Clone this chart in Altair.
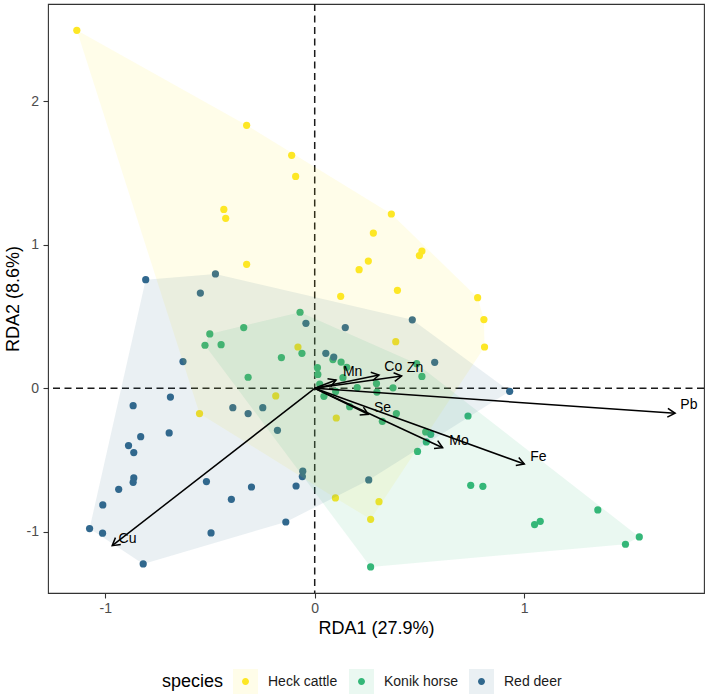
import math
import altair as alt
import pandas as pd

FONT = "Liberation Sans"

# ---------------- data ----------------
species = ["Heck cattle", "Konik horse", "Red deer"]
colors = ["#FDE725", "#35B779", "#31688E"]

heck_x = [-1.136, -0.325, -0.110, -0.091, -0.434, -0.425, -0.325, 0.366, 0.280, 0.512,
          0.500, 0.256, 0.212, 0.395, 0.124, 0.778, 0.808, 0.811, 0.387, -0.080,
          -0.186, -0.550, 0.103, 0.307, 0.267, 0.099]
heck_y = [2.495, 1.833, 1.624, 1.477, 1.247, 1.185, 0.864, 1.215, 1.082, 0.957,
          0.925, 0.887, 0.827, 0.683, 0.641, 0.632, 0.479, 0.288, 0.325, 0.288,
          -0.053, -0.176, -0.207, -0.790, -0.913, -0.764]

konik_x = [-0.070, -0.339, -0.501, -0.524, -0.447, -0.061, -0.159, -0.318, 0.013, 0.015,
           0.087, 0.126, 0.153, 0.135, 0.024, 0.044, 0.100, 0.167, 0.203, 0.295,
           0.297, 0.374, 0.323, 0.390, 0.487, 0.512, 0.530, 0.554, 0.533, 0.491,
           0.732, 0.745, 0.803, 1.352, 1.050, 1.077, 1.484, 1.550, 0.267]
konik_y = [0.530, 0.423, 0.379, 0.300, 0.304, 0.244, 0.214, 0.077, 0.144, 0.097,
           0.200, 0.183, 0.146, 0.074, 0.030, -0.056, -0.022, -0.128, 0.005, 0.033,
           -0.026, 0.003, -0.230, -0.176, 0.172, 0.083, -0.304, -0.321, -0.374, -0.440,
           -0.193, -0.676, -0.683, -0.848, -0.950, -0.927, -1.087, -1.036, -1.245]

deer_x = [-0.807, -0.474, -0.546, -0.629, -0.689, -0.867, -0.391, -0.318, -0.248, -0.178,
          -0.831, -0.695, -0.889, -0.864, -0.864, -0.867, -0.936, -1.012, -1.075, -1.013,
          -0.819, -0.517, -0.302, -0.398, -0.495, -0.138, -0.089, -0.057, -0.059, -0.042,
          0.146, 0.053, 0.091, 0.466, 0.573, 0.931, 0.258]
deer_y = [0.757, 0.797, 0.664, 0.186, -0.061, -0.121, -0.135, -0.176, -0.135, -0.293,
          -0.337, -0.311, -0.399, -0.448, -0.625, -0.655, -0.704, -0.813, -0.978, -1.010,
          -1.224, -0.650, -0.688, -0.774, -1.008, -0.932, -0.681, -0.578, -0.615, 0.453,
          0.423, 0.244, 0.218, 0.477, 0.181, -0.021, -0.639]

env_vars = ["Cu", "Pb", "Fe", "Mo", "Se", "Mn", "Co", "Zn"]
env_x = [-0.967, 1.721, 1.001, 0.611, 0.256, 0.102, 0.307, 0.415]
env_y = [-1.097, -0.174, -0.528, -0.414, -0.181, 0.058, 0.093, 0.086]
lab_x = [-0.894, 1.787, 1.068, 0.689, 0.324, 0.181, 0.375, 0.479]
lab_y = [-1.048, -0.116, -0.482, -0.367, -0.134, 0.116, 0.148, 0.141]

x_ticks = [-1, 0, 1]
y_ticks = [-1, 0, 1, 2]
x_domain = [-1.2736, 1.859]
y_domain = [-1.4268, 2.6787]
x_title = "RDA1 (27.9%)"
y_title = "RDA2 (8.6%)"

# ---------------- layout ----------------
W, H = 656, 589
PX_X = W / (x_domain[1] - x_domain[0])
PX_Y = H / (y_domain[1] - y_domain[0])


def convex_hull(pts):
    pts = sorted(set(pts))
    if len(pts) <= 2:
        return pts

    def cross(o, a, b):
        return (a[0] - o[0]) * (b[1] - o[1]) - (a[1] - o[1]) * (b[0] - o[0])

    lower = []
    for p in pts:
        while len(lower) >= 2 and cross(lower[-2], lower[-1], p) <= 0:
            lower.pop()
        lower.append(p)
    upper = []
    for p in reversed(pts):
        while len(upper) >= 2 and cross(upper[-2], upper[-1], p) <= 0:
            upper.pop()
        upper.append(p)
    return lower[:-1] + upper[:-1]


groups = [(species[0], heck_x, heck_y), (species[1], konik_x, konik_y), (species[2], deer_x, deer_y)]

pts_rows = []
hull_rows = []
for name, xs_, ys_ in groups:
    for a, b in zip(xs_, ys_):
        pts_rows.append({"px": a, "py": b, "grp": name})
    hull = convex_hull(list(zip(xs_, ys_)))
    for i, (a, b) in enumerate(hull):
        hull_rows.append({"hx": a, "hy": b, "species": name, "idx": i})

points_df = pd.DataFrame(pts_rows)
hull_df = pd.DataFrame(hull_rows)

arrow_rows = []
for n, ex, ey, lx, ly in zip(env_vars, env_x, env_y, lab_x, lab_y):
    ang = math.degrees(math.atan2(-ey * PX_Y, ex * PX_X)) % 360
    arrow_rows.append({"name": n, "x0": 0.0, "y0": 0.0, "xe": ex, "ye": ey,
                       "lx": lx, "ly": ly, "ang": ang})
arrow_df = pd.DataFrame(arrow_rows)
zero_df = pd.DataFrame({"v": [0.0]})

# ---------------- scales / axes ----------------
xs = alt.Scale(domain=x_domain, nice=False, zero=False)
ys = alt.Scale(domain=y_domain, nice=False, zero=False)

x_axis = alt.Axis(values=x_ticks, grid=False, domain=False, tickSize=5, tickColor="#333333",
                  tickWidth=1.1, labelFontSize=14, labelColor="#4D4D4D", labelFont=FONT,
                  labelPadding=3, labelExpr="'' + datum.value", titleFontSize=18, titleFont=FONT,
                  titleColor="#000000", titleFontWeight="normal", titleX=328, titleY=40,
                  titleBaseline="alphabetic", titleAlign="center")
y_axis = alt.Axis(values=y_ticks, grid=False, domain=False, tickSize=5, tickColor="#333333",
                  tickWidth=1.1, labelFontSize=14, labelColor="#4D4D4D", labelFont=FONT,
                  labelPadding=4.5, labelExpr="'' + datum.value", titleFontSize=18, titleFont=FONT,
                  titleColor="#000000", titleFontWeight="normal", titleX=-29.5, titleY=294.5,
                  titleAngle=270, titleBaseline="alphabetic", titleAlign="center")


def X(f):
    return alt.X(f, scale=xs, axis=x_axis, title=x_title)


def Y(f):
    return alt.Y(f, scale=ys, axis=y_axis, title=y_title)


legend_common = dict(orient="none", legendX=114, legendY=665, direction="horizontal",
                     titleOrient="left", titleAnchor="middle", titleBaseline="middle",
                     symbolSize=625, symbolStrokeWidth=0, labelFontSize=14, labelFont=FONT,
                     labelColor="#1A1A1A", labelOffset=10, columnPadding=11, titleFontSize=18,
                     titleFont=FONT, titleFontWeight="normal", titleColor="#000000",
                     titlePadding=9, padding=0)

CIRCLE_PATH = ("M -1 -1 L -1 -1 M 1 1 L 1 1 "
               "M 0.28 0 A 0.28 0.28 0 1 1 -0.28 0 A 0.28 0.28 0 1 1 0.28 0 Z")
CHEVRON = "M -1 -0.58 L 0 0 L -1 0.58"

# ---------------- layers ----------------
vline = alt.Chart(zero_df).mark_rule(strokeDash=[7, 4.5], strokeWidth=1.5, color="#1A1A1A").encode(
    x=X("v:Q"))
hline = alt.Chart(zero_df).mark_rule(strokeDash=[7, 4.5], strokeWidth=1.5, color="#1A1A1A").encode(
    y=Y("v:Q"))

points = alt.Chart(points_df).mark_circle(size=52, opacity=1).encode(
    x=X("px:Q"), y=Y("py:Q"),
    color=alt.Color("grp:N", scale=alt.Scale(domain=species, range=colors),
                    legend=alt.Legend(title="species", symbolType=CIRCLE_PATH, symbolOpacity=1,
                                      labelOpacity=0, titleOpacity=0, **legend_common)))

hulls = alt.Chart(hull_df).mark_line(fillOpacity=0.1, strokeWidth=0, interpolate="linear-closed").encode(
    x=X("hx:Q"), y=Y("hy:Q"),
    fill=alt.Fill("species:N", scale=alt.Scale(range=colors),
                  legend=alt.Legend(title="species", symbolType="square", symbolOpacity=0.1,
                                    **legend_common)),
    order=alt.Order("idx:Q"))

arrows = alt.Chart(arrow_df).mark_rule(color="black", strokeWidth=1.5).encode(
    x=X("x0:Q"), y=Y("y0:Q"), x2="xe:Q", y2="ye:Q")

heads = alt.Chart(arrow_df).mark_point(shape=CHEVRON, size=225, filled=False, color="black",
                                       strokeWidth=1.5, opacity=1).encode(
    x=X("xe:Q"), y=Y("ye:Q"), angle=alt.Angle("ang:Q", scale=None))

labels = alt.Chart(arrow_df).mark_text(font=FONT, fontSize=14, color="black").encode(
    x=X("lx:Q"), y=Y("ly:Q"), text="name:N")

chart = alt.layer(vline, hline, points, hulls, arrows, heads, labels).resolve_scale(
    color="independent", fill="independent"
).properties(
    width=W, height=H,
    autosize=alt.AutoSizeParams(type="none"),
    padding={"left": 48, "top": 4, "right": 4, "bottom": 106},
    background="white",
).configure_view(stroke="#333333", strokeWidth=1.1)

chart.save("out.html", embed_options={"renderer": "svg", "actions": False})
